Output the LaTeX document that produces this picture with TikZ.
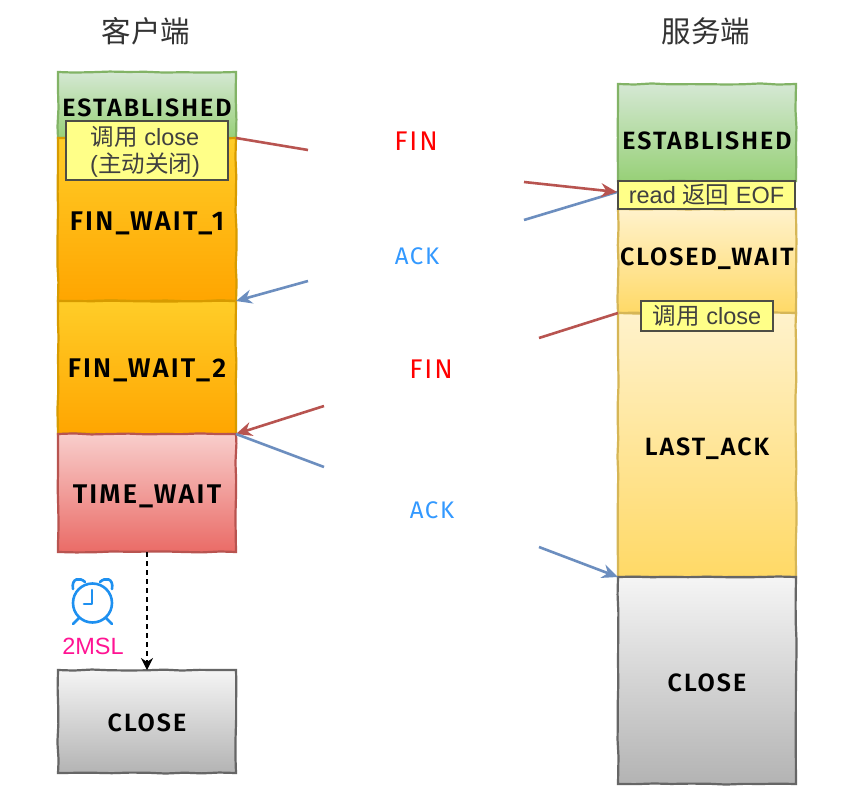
\documentclass[tikz,border=0pt]{standalone}
\usepackage{fontspec}
\setmainfont{Liberation Sans}
\newfontfamily\cjk{Noto Sans CJK SC}
\newfontfamily\statefont{Fira Sans}[UprightFont=* SemiBold,LetterSpace=8]
\newfontfamily\msgfont{Fira Sans}[LetterSpace=7]
\usetikzlibrary{arrows.meta,decorations.pathmorphing}
\definecolor{redline}{HTML}{B85450}
\definecolor{blueline}{HTML}{6C8EBF}
\definecolor{greentop}{HTML}{D5E8D4}\definecolor{greenbot}{HTML}{97D077}\definecolor{greenline}{HTML}{82B366}
\definecolor{orangetop}{HTML}{FFCD28}\definecolor{orangebot}{HTML}{FFA500}\definecolor{orangeline}{HTML}{D79B00}
\definecolor{redtop}{HTML}{F8CECC}\definecolor{redbot}{HTML}{EA6B66}
\definecolor{paletop}{HTML}{FFF2CC}\definecolor{palebot}{HTML}{FFD966}\definecolor{paleline}{HTML}{D6B656}
\definecolor{graytop}{HTML}{F5F5F5}\definecolor{graybot}{HTML}{B3B3B3}\definecolor{grayline}{HTML}{666666}
\definecolor{notefill}{HTML}{FFFF88}\definecolor{noteline}{HTML}{4D4D45}
\definecolor{clockblue}{HTML}{1E90F0}
\definecolor{ackblue}{HTML}{3399FF}
\definecolor{msl}{HTML}{FF1493}
\newcommand{\lifted}[2]{\raisebox{#1pt}[17pt][0pt]{#2}}
\tikzset{
  block/.style={anchor=north west,inner sep=0pt,outer sep=0pt,line width=2.2pt,minimum width=178pt,
    font=\statefont\fontsize{25}{27}\selectfont,text=black,
    decorate,decoration={random steps,segment length=18pt,amplitude=0.6pt}},
  wideblock/.style={font=\statefont\fontsize{27}{29}\selectfont},
  greenblock/.style={block,draw=greenline,top color=greentop,bottom color=greenbot},
  orangeblock/.style={block,draw=orangeline,top color=orangetop,bottom color=orangebot},
  redblock/.style={block,draw=redline,top color=redtop,bottom color=redbot},
  paleblock/.style={block,draw=paleline,top color=paletop,bottom color=palebot},
  grayblock/.style={block,draw=grayline,top color=graytop,bottom color=graybot},
  note/.style={anchor=north west,draw=noteline,fill=notefill,line width=1.2pt,inner sep=0pt,outer sep=0pt,align=center,
    font=\fontsize{23.5}{27}\selectfont,text=black!75},
  title/.style={font=\cjk\fontsize{29.5}{32}\selectfont,text=black!80},
  msg/.style={font=\msgfont\fontsize{24}{26}\selectfont},
  finmsg/.style={font=\msgfont\fontsize{27}{29}\selectfont,text=red},
  redarrow/.style={draw=redline,line width=2.6pt},
  bluearrow/.style={draw=blueline,line width=2.6pt},
  tip/.style={-{Stealth[length=16pt,width=14pt]}},
  clockline/.style={draw=clockblue,line width=2.6pt}
}
\begin{document}
\begin{tikzpicture}[x=1pt,y=-1pt]
\useasboundingbox[fill=white] (0,0) rectangle (854,789);
\pgfmathsetseed{7}
% titles
\node[title] (tl) at (146,31) {客户端};
\node[title] (tr) at (706,31) {服务端};
% client column
\node[greenblock,minimum height=66pt] (c1) at (58,72) {\lifted{-3}{ESTABLISHED}};
\node[orangeblock,wideblock,minimum height=163pt] (c2) at (58,138) {\lifted{-2.5}{FIN\_WAIT\_1}};
\node[orangeblock,wideblock,minimum height=133pt] (c3) at (58,301) {\lifted{-1.5}{FIN\_WAIT\_2}};
\node[redblock,wideblock,minimum height=118pt] (c4) at (58,434) {\lifted{-2}{TIME\_WAIT}};
\node[grayblock,minimum height=103pt] (c5) at (58,670) {\lifted{-1.5}{CLOSE}};
\node[note,minimum width=162pt,minimum height=59pt] (n1) at (66,121) {\raisebox{-3pt}[17pt][6pt]{{\cjk 调用} close}\hspace*{4pt}\\\raisebox{-3pt}[17pt][6pt]{({\cjk 主动关闭})}\hspace*{4pt}};
% server column
\node[greenblock,minimum height=97pt] (s1) at (618,84) {\lifted{-8.5}{ESTABLISHED}};
\node[paleblock,minimum height=104pt] (s2) at (618,209) {\lifted{4}{CLOSED\_WAIT}};
\node[paleblock,minimum height=264pt] (s3) at (618,313) {\lifted{-2}{LAST\_ACK}};
\node[grayblock,minimum height=207pt] (s4) at (618,577) {\lifted{-2.5}{CLOSE}};
\node[note,minimum width=177pt,minimum height=28pt] (n2) at (618,181) {read {\cjk 返回} EOF};
\node[note,minimum width=132pt,minimum height=30pt] (n3) at (641,301) {{\cjk 调用} close};
% messages
\node[finmsg] (m1) at (416,141) {FIN};
\node[msg,text=ackblue] (m2) at (417,256) {ACK};
\node[finmsg] (m3) at (431,369) {FIN};
\node[msg,text=ackblue] (m4) at (432,510) {ACK};
% free ends of the broken connectors
\coordinate (a1s) at (308,150);
\coordinate (a2s) at (524,182);
\coordinate (a3s) at (524,220);
\coordinate (a4s) at (308,281);
\coordinate (a5s) at (539,338);
\coordinate (a6s) at (324,406);
\coordinate (a7s) at (324,467);
\coordinate (a8s) at (539,547);
\coordinate (rd) at (617,192);
% connectors
\draw[redarrow] (c2.north east) -- (a1s);
\draw[bluearrow] (a3s) -- (rd);
\draw[redarrow,tip] (a2s) -- (rd);
\draw[bluearrow,tip] (a4s) -- (c2.south east);
\draw[redarrow] (s3.north west) -- (a5s);
\draw[redarrow,tip] (a6s) -- (c4.north east);
\draw[bluearrow] (c4.north east) -- (a7s);
\draw[bluearrow,tip] (a8s) -- (s4.north west);
\draw[black,line width=1.2pt,dash pattern=on 5pt off 4pt,-{Stealth[length=12pt,width=12pt]}] (c4.south) -- (c5.north);
% alarm clock
\draw[clockline] (92.5,603) circle (19.5pt);
\draw[clockline,line cap=round,line join=round] (92,590) -- (92,604) -- (84,604);
\draw[clockline,line cap=round] (79,618) -- (73,624);
\draw[clockline,line cap=round] (106,618) -- (112,624);
\draw[clockline,line cap=round] (73,589) .. controls (71,578) and (80,577) .. (85,582);
\draw[clockline,line cap=round] (112,589) .. controls (114,578) and (105,577) .. (100,582);
\node[font=\fontsize{23.5}{25}\selectfont,text=msl] (t) at (93,646) {2MSL};
\end{tikzpicture}
\end{document}
